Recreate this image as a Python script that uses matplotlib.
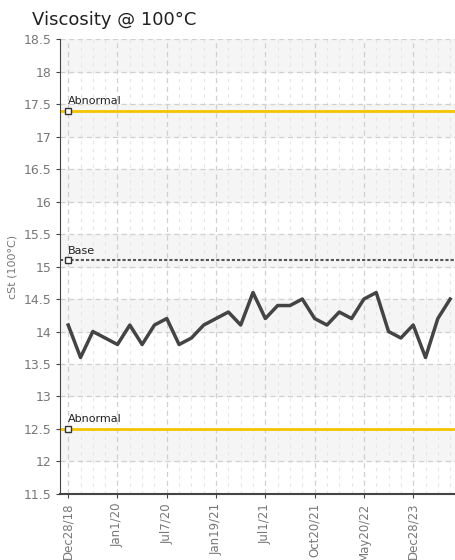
import matplotlib.pyplot as plt
import numpy as np

dates = ["Dec28/18", "Jan1/20", "Jul7/20", "Jan19/21", "Jul1/21", "Oct20/21", "May20/22", "Dec28/23"]
viscosity = [14.1, 13.6, 14.0, 13.9, 13.8, 14.1, 13.8, 14.1, 14.2, 13.8, 13.9, 14.1, 14.2, 14.3, 14.1, 14.6,
             14.2, 14.4, 14.4, 14.5, 14.2, 14.1, 14.3, 14.2, 14.5, 14.6, 14.0, 13.9, 14.1, 13.6, 14.2, 14.5]
abnormal_hi = 17.4
base = 15.1
abnormal_lo = 12.5

fig = plt.figure(figsize=(4.56, 5.6), dpi=100)
ax = fig.add_axes([0.132, 0.118, 0.866, 0.812])
x = np.arange(len(viscosity))
ax.set_xlim(-0.65, len(viscosity) - 0.6)
ax.set_ylim(11.5, 18.5)

for lo in np.arange(12.0, 18.5, 1.0):
    ax.axhspan(lo, lo + 0.5, color='#f5f5f5', zorder=0)

ax.set_yticks(np.arange(11.5, 18.51, 0.5))
ax.set_yticklabels([f"{v:g}" for v in np.arange(11.5, 18.51, 0.5)], fontsize=9, color='#777777')
ax.set_xticks(x[::4])
ax.set_xticklabels(dates, rotation=90, fontsize=8.5, color='#777777')
ax.set_xticks(x, minor=True)
ax.grid(True, which='major', color='#d0d0d0', linestyle=(0, (4, 3)), linewidth=0.9)
ax.grid(True, which='minor', axis='x', color='#e6e6e6', linestyle=(0, (3, 4)), linewidth=0.8)
ax.set_axisbelow(True)
for s in ['top', 'right']:
    ax.spines[s].set_visible(False)
ax.spines['left'].set_color('#444444')
ax.spines['bottom'].set_color('#444444')
ax.spines['bottom'].set_linewidth(1.5)
ax.tick_params(which='major', length=3, color='#444444')
ax.tick_params(which='minor', length=0)

ax.plot(x, viscosity, color='#444444', linewidth=2.5, zorder=3)
ax.axhline(abnormal_hi, color='#f5c400', linewidth=2, zorder=2)
ax.axhline(abnormal_lo, color='#f5c400', linewidth=2, zorder=2)
ax.axhline(base, color='#555555', linewidth=1.5, linestyle=(0, (1.5, 1)), zorder=2)
for y, lab in [(abnormal_hi, "Abnormal"), (base, "Base"), (abnormal_lo, "Abnormal")]:
    ax.plot([0], [y], marker='s', markersize=4, markerfacecolor='white', markeredgecolor='#333333', zorder=4)
    ax.text(0, y + 0.07, lab, fontsize=8, color='#222222', va='bottom')

ax.set_ylabel("cSt (100°C)", fontsize=8, color='#777777')
fig.text(0.07, 0.955, "Viscosity @ 100°C", fontsize=13, color='#222222')
fig.savefig("out.png")
